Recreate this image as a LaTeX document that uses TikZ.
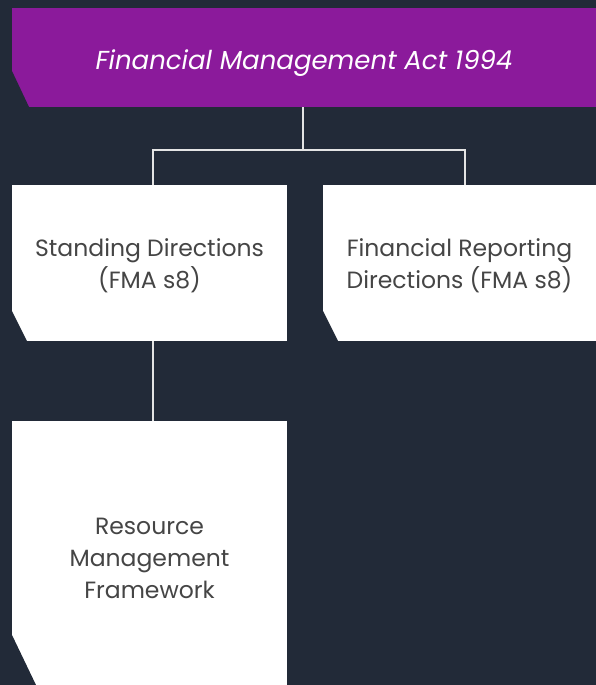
\documentclass[tikz,border=0pt]{standalone}
\usepackage{fontspec}
\setmainfont{Poppins}
\definecolor{navybg}{HTML}{222A38}
\definecolor{actpurple}{HTML}{8B1A9B}
\definecolor{boxtext}{HTML}{454545}
\definecolor{linkgray}{HTML}{E4E4E4}
\begin{document}
\begin{tikzpicture}[x=1pt,y=-1pt,
  clipcorner/.style 2 args={path picture={\fill[navybg] (path picture bounding box.south west) -- ++(#1,0) -- ++(-#1,-#2) -- cycle;}},
  panel/.style={shape=rectangle,fill=white,inner sep=0pt,minimum width=275pt,minimum height=156pt,clipcorner={15}{30}},
  paneltext/.style={text=boxtext,align=center,font=\fontsize{23.5}{32}\selectfont,yshift=-3pt},
  actbox/.style={panel,fill=actpurple,minimum width=584pt,minimum height=99pt,clipcorner={17}{36}},
  acttext/.style={text=white,font=\fontsize{26}{30}\selectfont\itshape,yshift=-6pt},
  link/.style={draw=linkgray,line width=1.1pt}]
\fill[navybg] (0,0) rectangle (596,685);
\useasboundingbox (0,0) rectangle (596,685);

\node[actbox,label={[acttext]center:Financial Management Act 1994}] (act) at (304,57.5) {};

\node[panel,label={[paneltext]center:Standing Directions\\(FMA s8)}] (sd) at (149.5,263) {};
\node[panel,minimum width=273pt,label={[paneltext]center:Financial Reporting\\Directions (FMA s8)}] (frd) at (459.5,263) {};
\node[panel,minimum height=264pt,clipcorner={24}{50},label={[paneltext,yshift=-2pt]center:Resource\\Management\\Framework}] (rmf) at (149.5,553) {};

\coordinate (split) at (303,150);
\draw[link] (act.south -| split) -- (split);
\draw[link] ([xshift=3.5]sd.north) |- (split) -| ([xshift=5.5]frd.north);
\draw[link] ([xshift=3.5]sd.south) -- ([xshift=3.5]rmf.north);
\end{tikzpicture}
\end{document}
